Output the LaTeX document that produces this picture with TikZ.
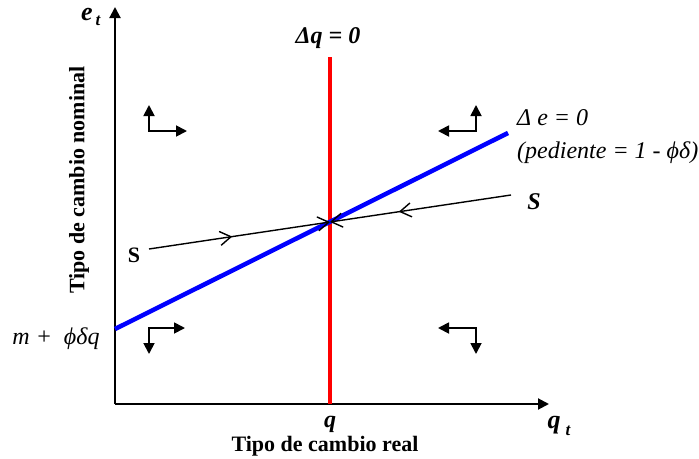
\documentclass[tikz,border=0pt]{standalone}
\usepackage{fontspec}
\setmainfont{Liberation Serif}
\usetikzlibrary{arrows.meta,decorations.markings}
\tikzset{
  axisline/.style={line width=2pt,-{Triangle[length=11pt,width=11pt]}},
  cornerarrow/.style={line width=1.8pt,{Triangle[length=11pt,width=11pt]}-{Triangle[length=11pt,width=11pt]}},
  pathline/.style={line width=1.4pt},
  openhead/.style={-{Straight Barb[length=11pt,width=14pt,line width=1.4pt]}},
  midhead/.style={postaction={decorate},decoration={markings,
     mark=at position #1 with {\arrow{Straight Barb[length=11pt,width=14pt,line width=1.4pt]}}}},
  lbl/.style={inner sep=0pt,font=\fontsize{22}{24}\selectfont},
  blbl/.style={lbl,font=\fontsize{22}{24}\selectfont\bfseries},
  bilbl/.style={lbl,font=\fontsize{24}{26}\selectfont\bfseries\itshape},
  biglbl/.style={lbl,font=\fontsize{26}{28}\selectfont\bfseries\itshape},
  ilbl/.style={lbl,font=\fontsize{24}{26}\selectfont\itshape},
  sublbl/.style={inner sep=0pt,font=\fontsize{17}{19}\selectfont\bfseries\itshape},
}
\begin{document}
\begin{tikzpicture}[x=1pt,y=-1pt]
\useasboundingbox (0,0) rectangle (699,458);
% axes
\coordinate (O) at (115,404);
\coordinate (ytop) at (115,7);
\coordinate (xend) at (549,404);
\draw[axisline] (O) -- (ytop);
\draw[axisline] (O) -- (xend);
% red line
\coordinate (rtop) at (330,57);
\coordinate (rbot) at (330,404);
\draw[red,line width=4pt] (rbot) -- (rtop);
% blue line
\coordinate (bl) at (115,329);
\coordinate (br) at (508,133);
\draw[blue,line width=4.5pt] (bl) -- (br);
% saddle path
\coordinate (E) at (330,222);
\coordinate (sl) at (149,249);
\coordinate (sr) at (511,195);
\draw[pathline,openhead,midhead=0.46] (sl) -- (E);
\draw[pathline,openhead,midhead=0.62] (sr) -- (E);
% corner arrows
\coordinate (c1) at (149,131);
\draw[cornerarrow] (149,105) -- (c1) -- (187,131);
\coordinate (c2) at (476,131);
\draw[cornerarrow] (476,105) -- (c2) -- (438,131);
\coordinate (c3) at (149,328);
\draw[cornerarrow] (149,354) -- (c3) -- (185,328);
\coordinate (c4) at (476,328);
\draw[cornerarrow] (476,354) -- (c4) -- (438,328);
% labels
\node[biglbl] (et) at (87,15) {e};
\node[sublbl] (ets) at (98,21) {t};
\node[bilbl] (dq) at (328,38) {Δq = 0};
\node[blbl,rotate=90] (ylab) at (79,180) {Tipo de cambio nominal};
\node[ilbl,anchor=west] (de) at (517,118) {Δ e = 0};
\node[ilbl,anchor=west] (pend) at (517,153) {(pediente = 1 - ϕδ)};
\node[bilbl] (Sr) at (534,202) {S};
\node[blbl] (Sl) at (134,255) {S};
\node[ilbl] (m) at (56,339) {m +\ \ ϕδq};
\node[bilbl] (q) at (330,424) {q};
\node[biglbl] (qt) at (554,425) {q};
\node[sublbl] (qts) at (568,431) {t};
\node[blbl] (xlab) at (325,446) {Tipo de cambio real};
\end{tikzpicture}
\end{document}
